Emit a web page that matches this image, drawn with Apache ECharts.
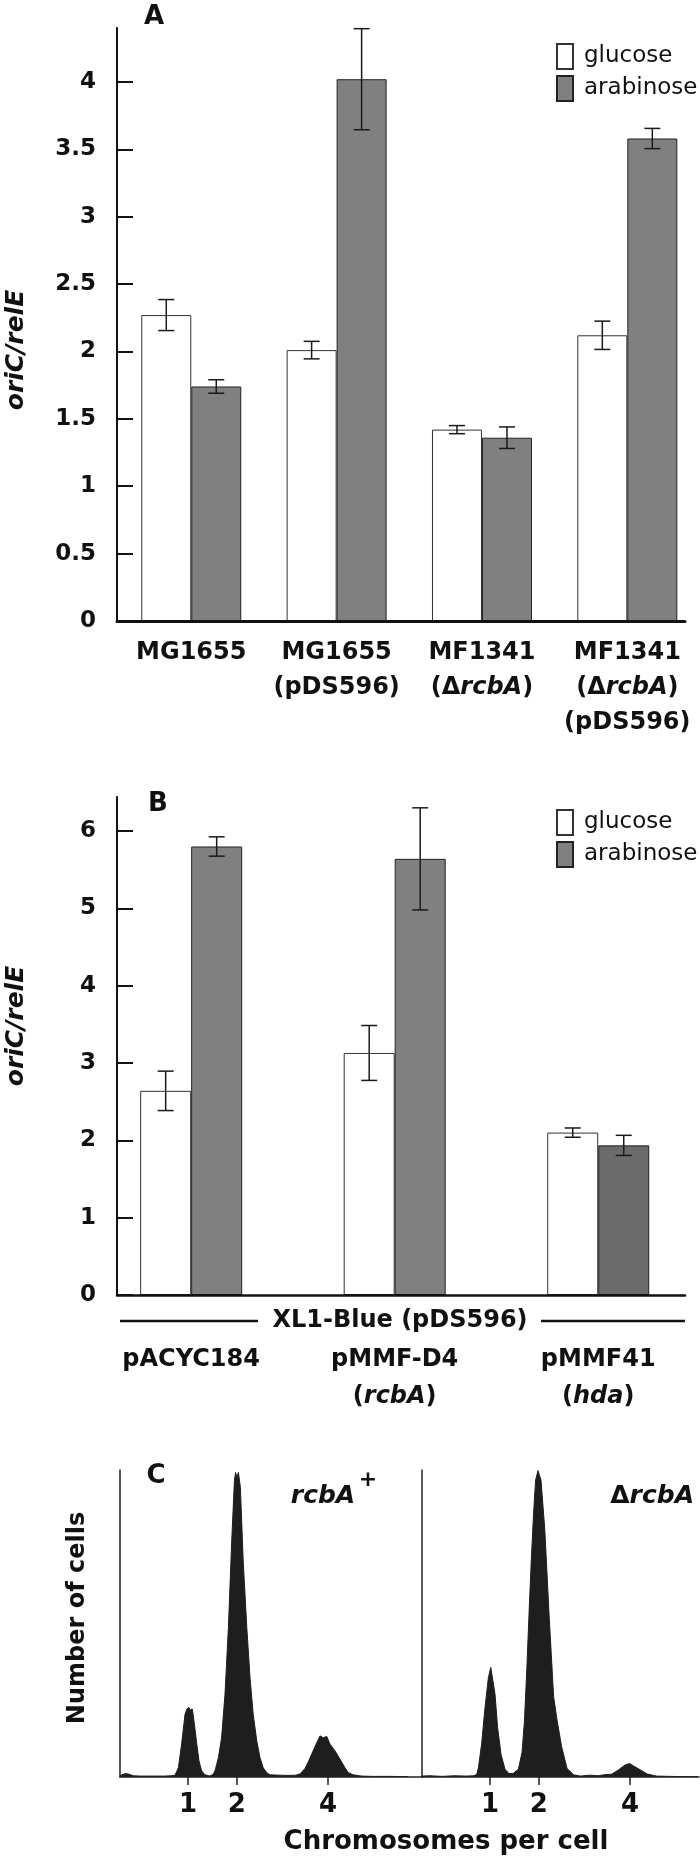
<!DOCTYPE html>
<html><head><meta charset="utf-8">
<script src="https://cdn.jsdelivr.net/npm/echarts@6/dist/echarts.min.js"></script>
<style>html,body{margin:0;padding:0;background:#fff}#c{width:700px;height:1860px}</style>
</head><body><div id="c"></div>
<script>
// ---------- Panel A ----------
const strainsA = ['MG1655', 'MG1655\n(pDS596)', 'MF1341\n(ΔrcbA)', 'MF1341\n(ΔrcbA)\n(pDS596)'];
const glucoseA = [2.27, 2.01, 1.42, 2.12];
const glucoseErrA = [0.115, 0.065, 0.03, 0.105];
const arabinoseA = [1.74, 4.02, 1.36, 3.58];
const arabinoseErrA = [0.05, 0.375, 0.08, 0.075];
const ticksA = [0, 0.5, 1, 1.5, 2, 2.5, 3, 3.5, 4];

// ---------- Panel B ----------
const plasmidsB = ['pACYC184', 'pMMF-D4\n(rcbA)', 'pMMF41\n(hda)'];
const glucoseB = [2.64, 3.13, 2.10];
const glucoseErrB = [0.255, 0.355, 0.06];
const arabinoseB = [5.80, 5.64, 1.935];
const arabinoseErrB = [0.125, 0.66, 0.13];
const ticksB = [0, 1, 2, 3, 4, 5, 6];

// ---------- Panel C (flow cytometry histograms: [channel, relative cell count]) ----------
const histRcbAPlus = [[0,0.4],[0.8,0.9],[1.4,1.1],[2.3,0.9],[3.3,0.4],[5,0.3],[8,0.3],[11,0.3],[13,0.4],[13.75,0.6],
  [14.6,3.0],[15.4,10.7],[16.25,20.4],[16.7,22.1],[17.25,22.6],[17.5,21.8],[17.75,22.1],[18.1,22.1],[18.6,17.2],
  [19.2,10.7],[19.75,5.2],[20.4,2.0],[21.25,0.7],[22.5,0.3],[23.3,0.9],[23.75,2.0],[24.6,6.3],[25.4,12.8],[26.25,27],
  [27.1,48.7],[27.9,75.9],[28.6,96.5],[28.9,99.2],[29.25,97.5],[29.6,99.2],[30.1,94.3],[30.8,70.4],[31.7,48.7],
  [32.5,32.4],[33.3,20.4],[34.2,11.7],[35,6.3],[35.8,3.0],[36.7,1.4],[37.5,0.7],[40,0.6],[42,0.5],[44,0.6],[45,1.0],
  [46.25,2.8],[47.1,5.0],[47.9,7.4],[49.2,11.2],[50,13.4],[50.8,12.8],[51.7,13.2],[52.5,10.7],[53.75,8.5],[55,5.8],
  [56.25,3],[57.1,1.4],[58.3,0.7],[60.4,0.3],[63,0.2],[68,0.2],[72,0.1]];
const histDeltaRcbA = [[0,0.3],[2,0.4],[5,0.2],[8,0.4],[11,0.3],[13,0.4],[13.7,0.9],[14.1,3],[14.9,10.7],[15.75,22.6],
  [16.6,32.4],[17.2,35.7],[17.6,35.1],[18.25,27],[18.9,16.1],[19.75,7.4],[20.75,2.5],[21.75,1.1],[22.8,1.2],[24.1,2.5],
  [25,8],[25.6,18],[26.2,35],[26.75,53],[27.3,70],[27.9,86],[28.4,96.7],[29,99.8],[29.75,96.7],[30.7,80.5],[31.75,53.3],
  [32.9,26.2],[33.75,18.6],[34.9,9.9],[36.25,2.8],[37.9,0.7],[39.6,0.3],[42,0.6],[44,0.4],[46,0.8],[47.4,0.9],[49.1,2.3],
  [50.75,3.9],[51.9,4.4],[53,3.5],[54.6,2.3],[56.3,1.0],[58.6,0.3],[62,0.2],[66,0.1],[69,0.1]];
const chromosomeTickChannels = [17, 29.2, 52];
const chromosomeTickLabels = ['1', '2', '4'];

// ---------- styling ----------
const F = 'DejaVu Sans';
const INK = '#111';
const GRAY = '#808080';
const HIST = '#1e1e1e';

const chart = echarts.init(document.getElementById('c'), null, {renderer: 'canvas', width: 700, height: 1860});

const catFormatter = v => v.replace(/(rcbA|hda)/g, '{i|$1}');
function catLabel(margin, lh) {
  return {interval: 0, margin, color: INK, fontFamily: F, fontWeight: 'bold', fontSize: 24, lineHeight: lh,
    formatter: catFormatter,
    rich: {i: {fontFamily: F, fontWeight: 'bold', fontStyle: 'italic', fontSize: 24, color: INK, lineHeight: lh}}};
}
function frameY(grid, max, ticks) {
  return {gridIndex: grid, type: 'value', min: 0, max, z: 6,
    axisLine: {show: true, lineStyle: {color: INK, width: 2}},
    axisTick: {show: true, inside: true, length: 16, customValues: ticks, lineStyle: {color: INK, width: 2}},
    axisLabel: {customValues: ticks, margin: 21, color: INK, fontFamily: F, fontWeight: 'bold', fontSize: 23,
      formatter: v => String(v)},
    splitLine: {show: false}};
}
function frameX(grid, w) {
  return {gridIndex: grid, type: 'value', min: 0, max: 1, z: 6,
    axisLine: {show: true, lineStyle: {color: INK, width: w}},
    axisTick: {show: false}, axisLabel: {show: false}, splitLine: {show: false}};
}
function hiddenY(grid, max) {
  return {gridIndex: grid, type: 'value', min: 0, max, show: false, splitLine: {show: false}};
}
function histX(grid, max) {
  return {gridIndex: grid, type: 'value', min: 0, max, z: 6,
    axisLine: {show: true, onZero: false, lineStyle: {color: '#222', width: 1.5}},
    axisTick: {show: true, length: 8, customValues: chromosomeTickChannels, lineStyle: {color: '#222', width: 1.5}},
    axisLabel: {customValues: chromosomeTickChannels, margin: 15, color: INK, fontFamily: F, fontWeight: 'bold', fontSize: 26,
      formatter: v => chromosomeTickLabels[chromosomeTickChannels.indexOf(v)]},
    splitLine: {show: false}};
}
function histY(grid) {
  return {gridIndex: grid, type: 'value', min: 0, max: 100, z: 6,
    axisLine: {show: true, lineStyle: {color: '#222', width: 1.5}},
    axisTick: {show: false}, axisLabel: {show: false}, splitLine: {show: false}};
}
function errorSeries(grid, vals, errs, offset) {
  return {type: 'custom', xAxisIndex: grid, yAxisIndex: grid, z: 5, silent: true,
    data: vals.map((v, i) => [i, v, errs[i]]),
    renderItem(params, api) {
      const i = api.value(0), v = api.value(1), e = api.value(2);
      const x = api.coord([i, v])[0] + offset;
      const yT = api.coord([i, v + e])[1], yB = api.coord([i, v - e])[1];
      const cap = 8, st = {stroke: '#1a1a1a', lineWidth: 1.5};
      return {type: 'group', children: [
        {type: 'line', shape: {x1: x, y1: yT, x2: x, y2: yB}, style: st},
        {type: 'line', shape: {x1: x - cap, y1: yT, x2: x + cap, y2: yT}, style: st},
        {type: 'line', shape: {x1: x - cap, y1: yB, x2: x + cap, y2: yB}, style: st}]};
    }};
}
const whiteBar = {color: '#fff', borderColor: '#333', borderWidth: 1};
const grayBar = {color: GRAY, borderColor: '#222', borderWidth: 1};
const legendBase = {orient: 'vertical', left: 551, itemWidth: 16, itemHeight: 25, itemGap: 5, icon: 'rect',
  data: ['glucose', 'arabinose'], selectedMode: false,
  textStyle: {fontFamily: F, fontSize: 23, color: INK, padding: [0, 0, 0, 6]}};

const bwA = 50, bwB = 51;

const option = {
  backgroundColor: '#fff',
  animation: false,
  legend: [Object.assign({top: 38}, legendBase), Object.assign({top: 804}, legendBase)],
  grid: [
    {left: 117, top: 28, width: 568, height: 593},        // 0 A frame
    {left: 118.6, top: 28, width: 583.5, height: 593},    // 1 A bars
    {left: 117, top: 797, width: 568, height: 498},       // 2 B frame
    {left: 89.4, top: 797, width: 618.75, height: 498},   // 3 B bars
    {left: 120, top: 1470, width: 302, height: 307},      // 4 C left
    {left: 422, top: 1470, width: 277, height: 307}       // 5 C right
  ],
  xAxis: [
    frameX(0, 3),
    {gridIndex: 1, type: 'category', data: strainsA, axisLine: {show: false}, axisTick: {show: false}, axisLabel: catLabel(14, 35)},
    frameX(2, 2.5),
    {gridIndex: 3, type: 'category', data: plasmidsB, axisLine: {show: false}, axisTick: {show: false}, axisLabel: catLabel(46, 37)},
    histX(4, 75.5),
    histX(5, 69.25)
  ],
  yAxis: [
    frameY(0, 4.4, ticksA), hiddenY(1, 4.4),
    frameY(2, 6.44, ticksB), hiddenY(3, 6.44),
    histY(4), histY(5)
  ],
  series: [
    {type: 'bar', name: 'glucose', xAxisIndex: 1, yAxisIndex: 1, data: glucoseA, barWidth: bwA, barGap: '0%', itemStyle: whiteBar},
    {type: 'bar', name: 'arabinose', xAxisIndex: 1, yAxisIndex: 1, data: arabinoseA, barWidth: bwA, barGap: '0%', itemStyle: grayBar},
    errorSeries(1, glucoseA, glucoseErrA, -bwA / 2),
    errorSeries(1, arabinoseA, arabinoseErrA, bwA / 2),
    {type: 'bar', name: 'glucose', xAxisIndex: 3, yAxisIndex: 3, data: glucoseB, barWidth: bwB, barGap: '0%', itemStyle: whiteBar},
    {type: 'bar', name: 'arabinose', xAxisIndex: 3, yAxisIndex: 3, barWidth: bwB, barGap: '0%', itemStyle: grayBar,
      data: arabinoseB.map((v, i) => i === 2 ? {value: v, itemStyle: {color: '#6b6b6b'}} : v)},
    errorSeries(3, glucoseB, glucoseErrB, -bwB / 2),
    errorSeries(3, arabinoseB, arabinoseErrB, bwB / 2),
    {type: 'line', xAxisIndex: 4, yAxisIndex: 4, data: histRcbAPlus, symbol: 'none', silent: true,
      lineStyle: {color: HIST, width: 1}, areaStyle: {color: HIST, opacity: 1}},
    {type: 'line', xAxisIndex: 5, yAxisIndex: 5, data: histDeltaRcbA, symbol: 'none', silent: true,
      lineStyle: {color: HIST, width: 1}, areaStyle: {color: HIST, opacity: 1}}
  ],
  graphic: {elements: [
    {type: 'text', x: 154, y: 17, style: {text: 'A', font: 'bold 26px "DejaVu Sans"', fill: INK, align: 'center', verticalAlign: 'middle'}},
    {type: 'text', x: 158, y: 804, style: {text: 'B', font: 'bold 26px "DejaVu Sans"', fill: INK, align: 'center', verticalAlign: 'middle'}},
    {type: 'text', x: 156, y: 1476, style: {text: 'C', font: 'bold 26px "DejaVu Sans"', fill: INK, align: 'center', verticalAlign: 'middle'}},
    {type: 'text', x: 16, y: 350, rotation: Math.PI / 2, style: {text: 'oriC/relE', font: 'italic bold 25px "DejaVu Sans"', fill: INK, align: 'center', verticalAlign: 'middle'}},
    {type: 'text', x: 16, y: 1026, rotation: Math.PI / 2, style: {text: 'oriC/relE', font: 'italic bold 25px "DejaVu Sans"', fill: INK, align: 'center', verticalAlign: 'middle'}},
    {type: 'line', shape: {x1: 120, y1: 1321, x2: 258, y2: 1321}, style: {stroke: INK, lineWidth: 2.5}},
    {type: 'line', shape: {x1: 541, y1: 1321, x2: 685, y2: 1321}, style: {stroke: INK, lineWidth: 2.5}},
    {type: 'text', x: 400, y: 1321, style: {text: 'XL1-Blue (pDS596)', font: 'bold 24px "DejaVu Sans"', fill: INK, align: 'center', verticalAlign: 'middle'}},
    {type: 'text', x: 78, y: 1618, rotation: Math.PI / 2, style: {text: 'Number of cells', font: 'bold 24px "DejaVu Sans"', fill: INK, align: 'center', verticalAlign: 'middle'}},
    {type: 'text', x: 446, y: 1842, style: {text: 'Chromosomes per cell', font: 'bold 26px "DejaVu Sans"', fill: INK, align: 'center', verticalAlign: 'middle'}},
    {type: 'text', x: 323, y: 1496, style: {text: 'rcbA', font: 'italic bold 25px "DejaVu Sans"', fill: INK, align: 'center', verticalAlign: 'middle'}},
    {type: 'text', x: 368, y: 1480, style: {text: '+', font: 'bold 22px "DejaVu Sans"', fill: INK, align: 'center', verticalAlign: 'middle'}},
    {type: 'text', x: 694, y: 1496, style: {text: '{d|Δ}{i|rcbA}', align: 'right', verticalAlign: 'middle',
      rich: {d: {font: 'bold 25px "DejaVu Sans"', fill: INK}, i: {font: 'italic bold 25px "DejaVu Sans"', fill: INK}}}}
  ]}
};
chart.setOption(option);
</script>
</body></html>
